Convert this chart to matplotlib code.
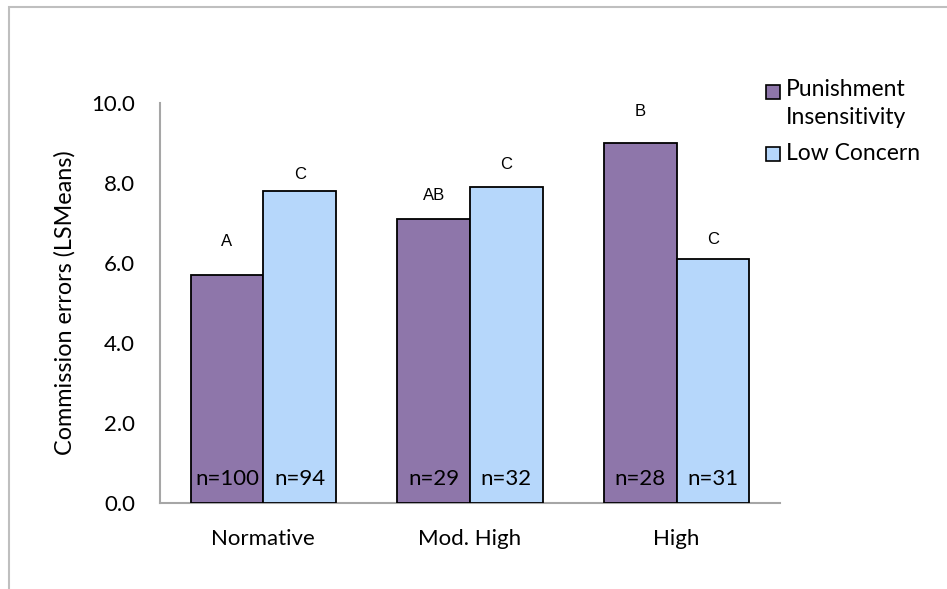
import matplotlib
matplotlib.use("Agg")
import matplotlib.pyplot as plt
import numpy as np
from matplotlib.patches import Rectangle

categories = ["Normative", "Mod. High", "High"]
series_names = ["Punishment\nInsensitivity", "Low Concern"]
punishment = [5.7, 7.1, 9.0]
low_concern = [7.8, 7.9, 6.1]
n_punishment = ["n=100", "n=29", "n=28"]
n_low = ["n=94", "n=32", "n=31"]
letters_punishment = ["A", "AB", "B"]
letters_low = ["C", "C", "C"]
letter_y_punishment = [6.55, 7.69, 9.8]
letter_y_low = [8.22, 8.47, 6.59]
yticks = [0, 2, 4, 6, 8, 10]

purple = "#8E76AA"
blue = "#B6D7FB"
axis_gray = "#A6A6A6"

W, H = 947, 589
fig = plt.figure(figsize=(W / 100, H / 100), dpi=100)
ax = fig.add_axes([160 / W, 1 - 503 / H, 620 / W, 400 / H])

font = "Lato"
fs = 16
x = np.arange(len(categories))
bw = 0.352
ax.bar(x - bw / 2, punishment, bw, color=purple, edgecolor="black", linewidth=1.3, zorder=3)
ax.bar(x + bw / 2, low_concern, bw, color=blue, edgecolor="black", linewidth=1.3, zorder=3)

for i in range(len(categories)):
    ax.text(x[i] - bw / 2, 0.6, n_punishment[i], ha="center", va="center", fontsize=fs, family=font, zorder=4)
    ax.text(x[i] + bw / 2, 0.6, n_low[i], ha="center", va="center", fontsize=fs, family=font, zorder=4)
    ax.text(x[i] - bw / 2, letter_y_punishment[i], letters_punishment[i], ha="center", va="center",
            fontsize=12, family="Liberation Sans")
    ax.text(x[i] + bw / 2, letter_y_low[i], letters_low[i], ha="center", va="center",
            fontsize=12, family="Liberation Sans")

ax.set_xlim(-0.5, 2.5)
ax.set_ylim(0, 10)
ax.set_yticks(yticks)
ax.set_yticklabels([f"{v:.1f}" for v in yticks], fontsize=fs, family=font)
ax.set_xticks(x)
ax.set_xticklabels(categories, fontsize=fs, family=font)
ax.tick_params(axis="y", length=0, pad=18)
ax.tick_params(axis="x", length=0, pad=19)
for s in ["top", "right"]:
    ax.spines[s].set_visible(False)
for s in ["left", "bottom"]:
    ax.spines[s].set_color(axis_gray)
    ax.spines[s].set_linewidth(1.5)
ax.set_ylabel("Commission errors (LSMeans)", fontsize=16.8, family=font, labelpad=11)

# outer frame
fig.add_artist(Rectangle((9 / W, -0.01), 1.2, 1 - 7 / H + 0.01, transform=fig.transFigure,
                         fill=False, edgecolor="#BFBFBF", linewidth=1.5))

# legend
sq = 14
fig.add_artist(Rectangle((766 / W, 1 - 99 / H), sq / W, sq / H, transform=fig.transFigure,
                         facecolor=purple, edgecolor="black", linewidth=1.2))
fig.text(786 / W, 1 - 90 / H, "Punishment", fontsize=16.5, family=font, va="center", ha="left")
fig.text(786 / W, 1 - 118 / H, "Insensitivity", fontsize=16.5, family=font, va="center", ha="left")
fig.add_artist(Rectangle((766 / W, 1 - 161 / H), sq / W, sq / H, transform=fig.transFigure,
                         facecolor=blue, edgecolor="black", linewidth=1.2))
fig.text(786 / W, 1 - 153 / H, series_names[1], fontsize=16.5, family=font, va="center", ha="left")

fig.savefig("out.png", dpi=100)
